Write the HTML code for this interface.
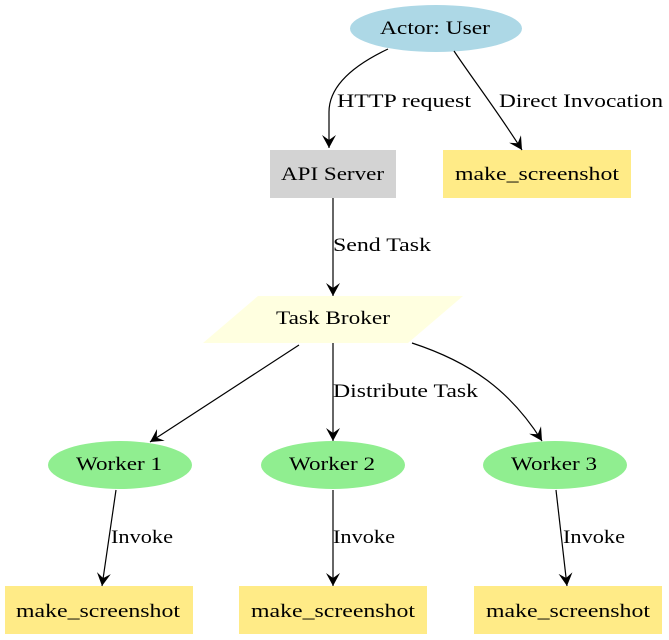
<!DOCTYPE html>
<html><head><meta charset="utf-8"><style>
html,body{margin:0;padding:0;background:#fff;}
svg{display:block;}
text{font-family:"Liberation Serif",serif;font-size:19px;fill:#000;}
</style></head><body>
<svg width="669" height="640" viewBox="0 0 669 640" xmlns="http://www.w3.org/2000/svg">
<defs>
<marker id="v" markerWidth="14" markerHeight="16" refX="13" refY="8" orient="auto" markerUnits="userSpaceOnUse">
<path d="M0,1 L13,8 L0,15 L5,8 Z" fill="#000"/>
</marker>
</defs>
<ellipse cx="436" cy="28.5" rx="86" ry="23.5" fill="#add8e6"/>
<text x="380" y="34" textLength="110" lengthAdjust="spacingAndGlyphs">Actor: User</text>

<rect x="270" y="150" width="126" height="48" fill="#d3d3d3"/>
<text x="281" y="180" textLength="103" lengthAdjust="spacingAndGlyphs">API Server</text>

<rect x="443" y="150" width="188" height="48" fill="#ffeb87"/>
<text x="455" y="180" textLength="164" lengthAdjust="spacingAndGlyphs">make_screenshot</text>

<polygon points="258,296 463,296 408,343 203,343" fill="#ffffe0"/>
<text x="276" y="324" textLength="114" lengthAdjust="spacingAndGlyphs">Task Broker</text>

<ellipse cx="120" cy="465" rx="72" ry="24" fill="#90ee90"/>
<text x="76" y="470" textLength="86" lengthAdjust="spacingAndGlyphs">Worker 1</text>
<ellipse cx="333" cy="465" rx="72" ry="24" fill="#90ee90"/>
<text x="289" y="470" textLength="86" lengthAdjust="spacingAndGlyphs">Worker 2</text>
<ellipse cx="555" cy="465" rx="72" ry="24" fill="#90ee90"/>
<text x="511" y="470" textLength="86" lengthAdjust="spacingAndGlyphs">Worker 3</text>

<rect x="5" y="586" width="188" height="48" fill="#ffeb87"/>
<text x="16" y="617" textLength="164" lengthAdjust="spacingAndGlyphs">make_screenshot</text>
<rect x="239" y="586" width="188" height="48" fill="#ffeb87"/>
<text x="251" y="617" textLength="164" lengthAdjust="spacingAndGlyphs">make_screenshot</text>
<rect x="474" y="586" width="188" height="48" fill="#ffeb87"/>
<text x="486" y="617" textLength="164" lengthAdjust="spacingAndGlyphs">make_screenshot</text>

<g fill="none" stroke="#000" stroke-width="1.2">
<path d="M388,49 C350,67 329,88 329,112 L329,148" marker-end="url(#v)"/>
<path d="M454,51 C472,78 498,112 522,150" marker-end="url(#v)"/>
<path d="M333,198 L333,296" marker-end="url(#v)"/>
<path d="M299,345 L150,442" marker-end="url(#v)"/>
<path d="M333,343 L333,441" marker-end="url(#v)"/>
<path d="M412,343 C470,362 510,390 542,441" marker-end="url(#v)"/>
<path d="M116,490 L102,586" marker-end="url(#v)"/>
<path d="M333,490 L333,586" marker-end="url(#v)"/>
<path d="M556,490 L567,586" marker-end="url(#v)"/>
</g>

<text x="337" y="107" textLength="134" lengthAdjust="spacingAndGlyphs">HTTP request</text>
<text x="499" y="107" textLength="164" lengthAdjust="spacingAndGlyphs">Direct Invocation</text>
<text x="333" y="251" textLength="98" lengthAdjust="spacingAndGlyphs">Send Task</text>
<text x="333" y="397" textLength="145" lengthAdjust="spacingAndGlyphs">Distribute Task</text>
<text x="111" y="543" textLength="62" lengthAdjust="spacingAndGlyphs">Invoke</text>
<text x="333" y="543" textLength="62" lengthAdjust="spacingAndGlyphs">Invoke</text>
<text x="563" y="543" textLength="62" lengthAdjust="spacingAndGlyphs">Invoke</text>
</svg>
</body></html>
